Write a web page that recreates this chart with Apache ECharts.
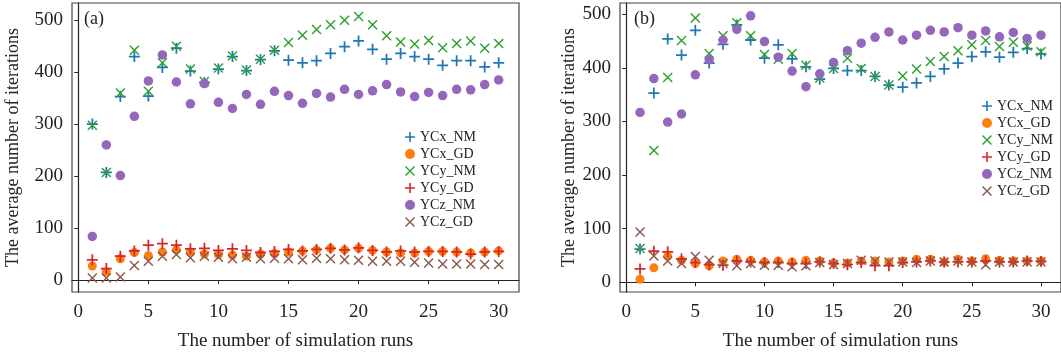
<!DOCTYPE html>
<html>
<head>
<meta charset="utf-8">
<script src="https://cdn.jsdelivr.net/npm/echarts@6/dist/echarts.min.js"></script>
<style>
  html, body { margin: 0; padding: 0; background: #fff; }
  #main { width: 1061px; height: 356px; }
</style>
</head>
<body>
<div id="main"></div>
<script>
// simulation runs (x values)
const runs = [1, 2, 3, 4, 5, 6, 7, 8, 9, 10, 11, 12, 13, 14, 15, 16, 17, 18, 19, 20, 21, 22, 23, 24, 25, 26, 27, 28, 29, 30];
const xTicks = [0, 5, 10, 15, 20, 25, 30];
const yTicks = [0, 100, 200, 300, 400, 500];
const seriesNames = ['YCx_NM', 'YCx_GD', 'YCy_NM', 'YCy_GD', 'YCz_NM', 'YCz_GD'];

// panel (a)
const aYCxNM = [300, 207, 353, 430, 354, 409, 446, 402, 380, 406, 430, 403, 424, 441, 423, 418, 422, 436, 449, 460, 444, 425, 436, 430, 425, 413, 422, 422, 410, 418];
const aYCxGD = [27, 16, 41, 53, 47, 54, 58, 54, 50, 49, 48, 46, 50, 51, 54, 56, 58, 61, 58, 61, 57, 54, 52, 52, 55, 55, 54, 52, 54, 56];
const aYCyNM = [298, 207, 360, 442, 363, 418, 450, 406, 382, 408, 431, 404, 425, 442, 457, 471, 482, 491, 500, 507, 491, 470, 458, 454, 461, 447, 455, 460, 446, 455];
const aYCyGD = [39, 22, 46, 56, 67, 70, 67, 60, 61, 57, 60, 57, 53, 55, 59, 56, 59, 61, 58, 62, 57, 54, 56, 54, 55, 55, 54, 50, 54, 55];
const aYCzNM = [84, 260, 201, 315, 383, 433, 381, 339, 378, 342, 330, 357, 338, 363, 355, 340, 359, 352, 367, 357, 364, 376, 362, 353, 361, 355, 367, 366, 376, 385];
const aYCzGD = [4, 4, 6, 28, 36, 46, 49, 43, 46, 44, 41, 44, 41, 42, 41, 39, 42, 41, 39, 38, 36, 36, 36, 34, 33, 31, 31, 31, 30, 30];

// panel (b)
const bYCxNM = [62, 353, 454, 424, 470, 409, 444, 480, 452, 418, 443, 417, 402, 379, 399, 395, 395, 384, 368, 364, 372, 384, 398, 409, 421, 430, 420, 429, 436, 426];
const bYCxGD = [6, 27, 49, 41, 35, 31, 40, 43, 41, 38, 40, 38, 41, 40, 36, 36, 40, 40, 38, 40, 43, 43, 38, 43, 40, 44, 41, 40, 40, 40];
const bYCyNM = [63, 246, 382, 451, 493, 427, 460, 484, 460, 425, 416, 427, 405, 381, 399, 418, 399, 384, 368, 385, 398, 412, 421, 432, 443, 451, 440, 448, 441, 430];
const bYCyGD = [25, 58, 57, 44, 37, 33, 32, 40, 38, 37, 37, 35, 35, 38, 35, 33, 37, 31, 31, 37, 38, 40, 38, 38, 38, 40, 38, 38, 40, 39];
const bYCzNM = [317, 380, 299, 314, 387, 415, 452, 472, 497, 449, 420, 394, 365, 389, 410, 432, 446, 457, 467, 452, 461, 470, 467, 475, 461, 469, 458, 466, 455, 461];
const bYCzGD = [94, 49, 40, 35, 48, 41, 35, 31, 35, 32, 32, 29, 31, 37, 33, 35, 41, 40, 38, 38, 37, 40, 38, 40, 38, 33, 38, 38, 38, 38];

const FONT = '"Liberation Serif", "DejaVu Serif", serif';
const TEXT = '#222';
const PLUS = 'path://M0,4.2H10V5.8H0Z M4.2,0H5.8V10H4.2Z';
const CROSS = 'path://M0,1L1,0L10,9L9,10Z M9,0L10,1L1,10L0,9Z';

// marker style per series (matplotlib tab10)
const styles = [
  { color: '#1f77b4', symbol: PLUS, size: 11 },
  { color: '#ff7f0e', symbol: 'circle', size: 9 },
  { color: '#2ca02c', symbol: CROSS, size: 10 },
  { color: '#d62728', symbol: PLUS, size: 11 },
  { color: '#9467bd', symbol: 'circle', size: 9.5 },
  { color: '#8c564b', symbol: CROSS, size: 10 }
];

const panelA = [aYCxNM, aYCxGD, aYCyNM, aYCyGD, aYCzNM, aYCzGD];
const panelB = [bYCxNM, bYCxGD, bYCyNM, bYCyGD, bYCzNM, bYCzGD];

function makeSeries(values, idx) {
  return values.map((vals, i) => ({
    name: seriesNames[i],
    type: 'scatter',
    xAxisIndex: idx,
    yAxisIndex: idx,
    symbol: styles[i].symbol,
    symbolSize: styles[i].size,
    itemStyle: { color: styles[i].color, opacity: 1 },
    data: runs.map((r, k) => [r, vals[k]])
  }));
}

function xAxisOf(idx) {
  return {
    type: 'value',
    gridIndex: idx,
    min: -0.45,
    max: 31.45,
    name: 'The number of simulation runs',
    nameLocation: 'middle',
    nameGap: 40,
    nameTextStyle: { fontFamily: FONT, fontSize: 19, color: TEXT },
    splitLine: { show: false },
    axisLine: { show: true, lineStyle: { color: '#222', width: 1.2 } },
    axisTick: { show: true, inside: false, length: 4, customValues: xTicks, lineStyle: { color: '#222' } },
    axisLabel: { customValues: xTicks, margin: 11, fontFamily: FONT, fontSize: 19, color: TEXT }
  };
}

function yAxisOf(idx, min, max, gap) {
  return {
    type: 'value',
    gridIndex: idx,
    min: min,
    max: max,
    name: 'The average number of iterations',
    nameLocation: 'middle',
    nameRotate: 90,
    nameGap: gap,
    nameTextStyle: { fontFamily: FONT, fontSize: 18, color: TEXT },
    splitLine: { show: false },
    axisLine: { show: true, lineStyle: { color: '#222', width: 1.2 } },
    axisTick: { show: true, inside: false, length: 4, customValues: yTicks, lineStyle: { color: '#222' } },
    axisLabel: { customValues: yTicks, margin: 9, fontFamily: FONT, fontSize: 19, color: TEXT }
  };
}

function legendOf(left, top) {
  return {
    orient: 'vertical',
    left: left,
    top: top,
    itemWidth: 10,
    itemHeight: 10,
    itemGap: 3,
    selectedMode: false,
    data: seriesNames,
    textStyle: { fontFamily: FONT, fontSize: 14, color: TEXT, padding: [0, 0, 0, 0] }
  };
}

const chart = echarts.init(document.getElementById('main'), null, { renderer: 'canvas' });
chart.setOption({
  animation: false,
  backgroundColor: '#fff',
  grid: [
    { left: 72, top: 3, width: 447, height: 291, show: true, borderColor: '#444', borderWidth: 1.2, backgroundColor: 'transparent' },
    { left: 620, top: 3, width: 447, height: 291, show: true, borderColor: '#444', borderWidth: 1.2, backgroundColor: 'transparent' }
  ],
  xAxis: [xAxisOf(0), xAxisOf(1)],
  yAxis: [yAxisOf(0, -23, 533, 50), yAxisOf(1, -18, 521, 42)],
  legend: [legendOf(400, 125), legendOf(977, 94)],
  graphic: [
    { type: 'text', left: 84, top: 10, style: { text: '(a)', font: '18px ' + FONT, fill: TEXT } },
    { type: 'text', left: 634, top: 10, style: { text: '(b)', font: '18px ' + FONT, fill: TEXT } }
  ],
  series: makeSeries(panelA, 0).concat(makeSeries(panelB, 1))
});
</script>
</body>
</html>
